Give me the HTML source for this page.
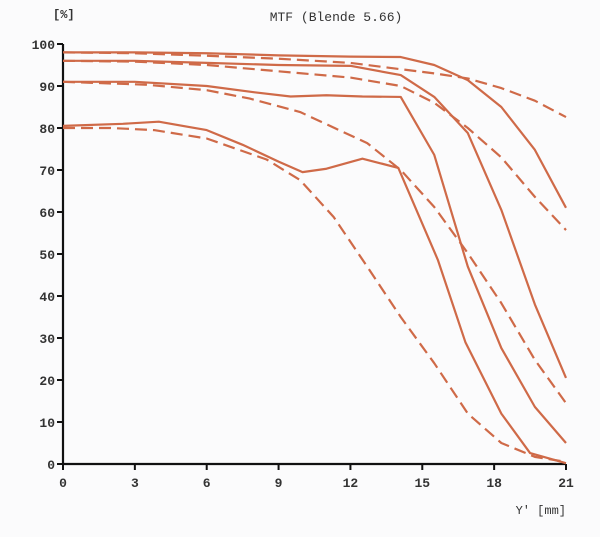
<!DOCTYPE html>
<html><head><meta charset="utf-8"><style>
body{margin:0;background:#fbfbfc;}
svg text{font-family:"Liberation Mono",monospace;fill:#333;}
</style></head><body>
<svg width="600" height="532" id="chart">
<text x="336" y="21" font-size="13" text-anchor="middle">MTF (Blende  5.66)</text>
<text x="53" y="18" font-size="12" font-weight="bold">[%]</text>
<text x="566" y="514" font-size="12" text-anchor="end">Y'  [mm]</text>
<g id="axes"></g><g id="series"></g>
</svg>
<script>
const xTicks=[0,3,6,9,12,15,18,21];
const yTicks=[0,10,20,30,40,50,60,70,80,90,100];
const xA=[0,3,6,9,12,14.1,15.5,16.9,18.3,19.7,21];
const solidA=[98,98,97.8,97.3,97,96.9,95,91.4,85,74.8,61];
const solidB=[96,96,95.5,95,94.8,92.6,87.4,78.8,60.5,38,20.5];
const dashA=[98,97.8,97.2,96.5,95.5,94,93,91.8,89.5,86.5,82.6];
const dashB=[96,95.8,95,93.5,92,90,86,80,73,63.6,55.7];
const xC=[0,3,6,8,9.5,11,12.5,14.1,15.5,16.9,18.3,19.7,21];
const solidC=[91,91,90,88.5,87.5,87.8,87.5,87.4,73.6,47,27.6,13.6,5];
const xD=[0,2.5,4,6,7.5,9,10,11,12.5,14,15.65,16.8,18.3,19.5,21];
const solidD=[80.5,81,81.5,79.5,76,72,69.5,70.3,72.7,70.5,48.6,29,12,2.6,0.2];
const xDC=[0,3.5,6,7.8,9.9,12.7,14.1,15.5,16.9,18.3,19.7,21];
const dashC=[91,90.3,89,87,83.8,76.4,70,61.2,50.2,38.3,24.8,14.5];
const xDD=[0,2,3.8,6,8.5,9.9,11.3,12.7,14.1,15.5,16.9,18.3,19.7,21];
const dashD=[80,80,79.5,77.5,72.5,67.6,58.8,47,35,24,12,5,1.7,0.5];
const X=v=>63+v*(566-63)/21, Y=v=>464-v*4.2;
const NS='http://www.w3.org/2000/svg';
const ax=document.getElementById('axes'), sg=document.getElementById('series');
function mk(tag,at,p){const e=document.createElementNS(NS,tag);for(const k in at)e.setAttribute(k,at[k]);p.appendChild(e);return e;}
let l=mk('line',{x1:X(0),y1:Y(0),x2:X(21),y2:Y(0),stroke:'#111','stroke-width':2.2},ax);


l=mk('line',{x1:X(0),y1:Y(0)+1,x2:X(0),y2:Y(100),stroke:'#111','stroke-width':2.2},ax);


xTicks.forEach(t=>{mk('line',{x1:X(t),y1:Y(0),x2:X(t),y2:Y(0)+6,stroke:'#111','stroke-width':2},ax);
const tx=mk('text',{x:X(t),y:Y(0)+23,'font-size':13,'font-weight':'bold','text-anchor':'middle'},ax);tx.textContent=t;

});
yTicks.forEach(t=>{mk('line',{x1:X(0)-6,y1:Y(t),x2:X(0),y2:Y(t),stroke:'#111','stroke-width':2},ax);
const tx=mk('text',{x:X(0)-8,y:Y(t)+5,'font-size':13,'font-weight':'bold','text-anchor':'end'},ax);tx.textContent=t;

});
function draw(xs,ys,dash,name){const p=mk('polyline',{points:xs.map((x,i)=>X(x)+','+Y(ys[i])).join(' '),fill:'none',stroke:'#cf6a48','stroke-width':2.2,'stroke-linejoin':'round'},sg);
if(dash)p.setAttribute('stroke-dasharray','12 6');

}
draw(xA,solidA,false,'mtf-solid-1');draw(xA,dashA,true,'mtf-dashed-1');
draw(xA,solidB,false,'mtf-solid-2');draw(xA,dashB,true,'mtf-dashed-2');
draw(xC,solidC,false,'mtf-solid-3');draw(xDC,dashC,true,'mtf-dashed-3');
draw(xD,solidD,false,'mtf-solid-4');draw(xDD,dashD,true,'mtf-dashed-4');
</script>
</body></html>
